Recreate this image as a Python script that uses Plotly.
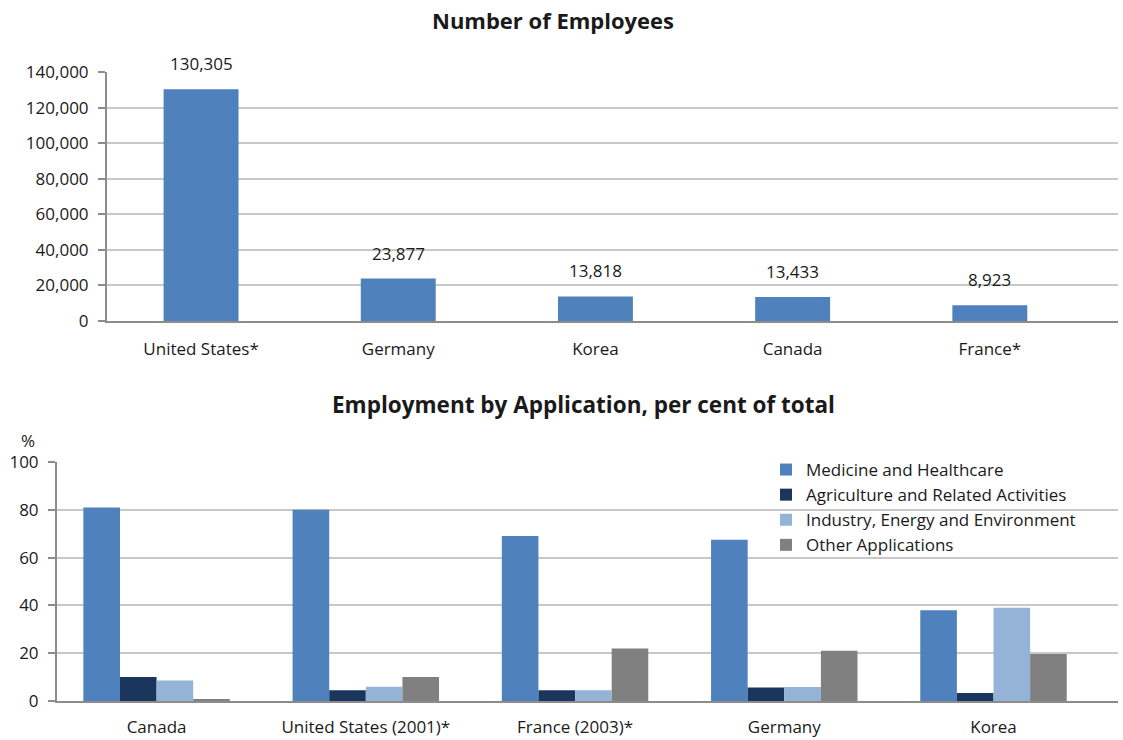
import plotly.graph_objects as go

# Number of employees by country
emp_countries = ["United States*", "Germany", "Korea", "Canada", "France*"]
emp_values = [130305, 23877, 13818, 13433, 8923]

# Employment by application, per cent of total
app_countries = ["Canada", "United States (2001)*", "France (2003)*", "Germany", "Korea"]
medicine = [81, 80, 69, 67.5, 38]
agriculture = [10, 4.5, 4.5, 5.6, 3.3]
industry = [8.6, 6, 4.5, 5.9, 39]
other = [0.8, 10, 22, 21, 19.7]

series_names = [
    "Medicine and Healthcare",
    "Agriculture and Related Activities",
    "Industry, Energy and Environment",
    "Other Applications",
]
series_colors = ["#4F81BD", "#1B365D", "#95B3D7", "#808080"]

FONT = "'Open Sans', Lato, sans-serif"
TEXT = "#1a1a1a"
GRID = "#c8c8c8"
AXIS = "#8c8c8c"
FS = 17

fig = go.Figure()

fig.add_trace(go.Bar(
    x=emp_countries, y=emp_values, xaxis="x", yaxis="y",
    marker=dict(color="#4F81BD", line=dict(width=0)),
    width=0.38, showlegend=False,
))

for name, vals, col in zip(series_names, [medicine, agriculture, industry, other], series_colors):
    fig.add_trace(go.Bar(
        x=app_countries, y=vals, name=name, xaxis="x2", yaxis="y2",
        marker=dict(color=col, line=dict(width=0)),
    ))

W, H = 1123, 740

x_common = dict(
    type="category", showgrid=False, showline=True, linecolor=AXIS, linewidth=2,
    ticks="", automargin=False,
    tickfont=dict(size=FS, color=TEXT),
)
y_common = dict(
    showgrid=True, gridcolor=GRID, gridwidth=2,
    showline=True, linecolor=AXIS, linewidth=2,
    ticks="outside", ticklen=7, tickcolor=AXIS, tickwidth=2,
    ticklabelstandoff=6, automargin=False,
    tickfont=dict(size=FS, color=TEXT), zeroline=False,
)

# value labels sitting above each employee bar
value_labels = [
    dict(x=c, y=v, xref="x", yref="y", text=f"{v:,}", showarrow=False,
         yanchor="bottom", yshift=12, font=dict(size=FS, color=TEXT))
    for c, v in zip(emp_countries, emp_values)
]

fig.update_layout(
    width=W, height=H,
    margin=dict(l=0, r=0, t=0, b=0, autoexpand=False),
    paper_bgcolor="white", plot_bgcolor="white",
    font=dict(family=FONT, size=FS, color=TEXT),
    barmode="group", bargap=0.3, bargroupgap=0,
    xaxis=dict(x_common, domain=[107 / W, 1118 / W], anchor="y", range=[-0.477, 4.65],
               ticklabelstandoff=12),
    yaxis=dict(y_common, domain=[1 - 321 / H, 1 - 72 / H], anchor="x",
               range=[0, 140000], dtick=20000, tickformat=","),
    xaxis2=dict(x_common, domain=[57 / W, 1118 / W], anchor="y2", range=[-0.476, 4.595],
                ticklabelstandoff=10),
    yaxis2=dict(y_common, domain=[1 - 701 / H, 1 - 462 / H], anchor="x2",
                range=[0, 100], dtick=20),
    legend=dict(
        x=766 / W, y=1 - 452 / H, xanchor="left", yanchor="top",
        bgcolor="rgba(0,0,0,0)", font=dict(size=FS, color=TEXT),
        tracegroupgap=0, itemwidth=30,
    ),
    annotations=value_labels + [
        dict(text="<b>Number of Employees</b>", x=553 / W, y=1 - 20 / H,
             xref="paper", yref="paper", showarrow=False,
             font=dict(size=22, color=TEXT), xanchor="center", yanchor="middle"),
        dict(text="<b>Employment by Application, per cent of total</b>", x=583 / W, y=1 - 404 / H,
             xref="paper", yref="paper", showarrow=False,
             font=dict(size=22.5, color=TEXT), xanchor="center", yanchor="middle"),
        dict(text="%", x=28 / W, y=1 - 440 / H, xref="paper", yref="paper",
             showarrow=False, font=dict(size=FS, color=TEXT),
             xanchor="center", yanchor="middle"),
    ],
)

fig.write_html("out.html")
